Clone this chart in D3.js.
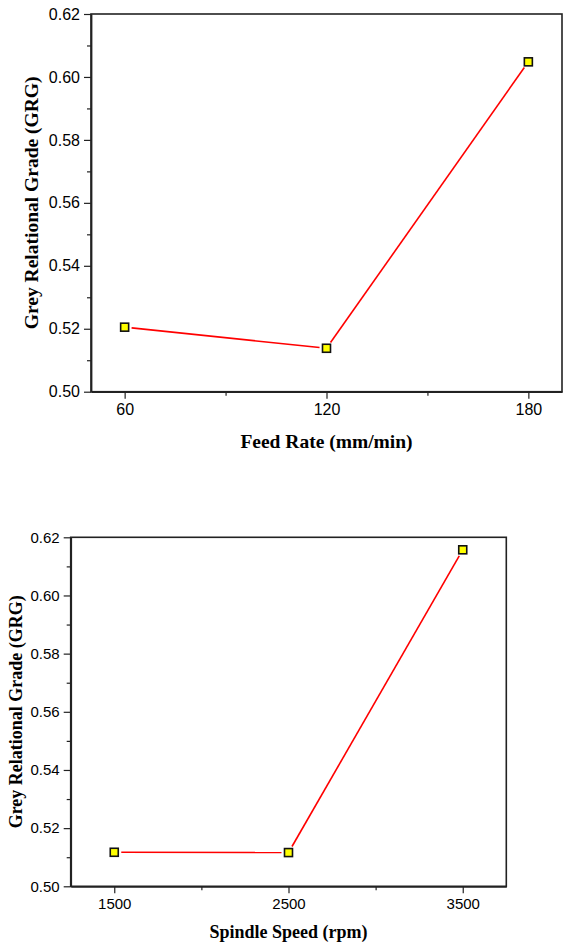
<!DOCTYPE html>
<html>
<head>
<meta charset="utf-8">
<script src="https://cdn.jsdelivr.net/npm/d3@7"></script>
<style>
  body { margin: 0; background: #fff; }
  svg { display: block; }
  .tick text { font-family: "Liberation Sans", Arial, sans-serif; fill: #000; }
  .axis path, .axis line { stroke: #222; }
  .title { font-family: "Liberation Serif", "Times New Roman", serif; font-weight: bold; fill: #000; }
</style>
</head>
<body>
<div id="chart"></div>
<script>
// data
var feedRate = [60, 120, 180];
var grgFeed = [0.5205, 0.5138, 0.6048];
var spindleSpeed = [1500, 2500, 3500];
var grgSpindle = [0.5117, 0.5116, 0.6157];
var yTicks = [0.50, 0.52, 0.54, 0.56, 0.58, 0.60, 0.62];
var yMinor = [0.51, 0.53, 0.55, 0.57, 0.59, 0.61];
var feedTicks = [60, 120, 180];
var feedMinor = [90, 150];
var speedTicks = [1500, 2500, 3500];
var speedMinor = [2000, 3000];

var w = 566, h = 946;

var svg = d3.select("#chart")
  .append("svg")
  .attr("width", w)
  .attr("height", h);

function panel(opt) {
  var g = svg.append("g");

  var xScale = d3.scaleLinear()
    .domain(opt.xDomain)
    .range([opt.left, opt.right]);

  var yScale = d3.scaleLinear()
    .domain([0.50, 0.62])
    .range([opt.bottom, opt.top]);

  // frame (top + right)
  g.append("rect")
    .attr("x", opt.left)
    .attr("y", opt.top)
    .attr("width", opt.right - opt.left)
    .attr("height", opt.bottom - opt.top)
    .attr("fill", "none")
    .attr("stroke", "#222")
    .attr("stroke-width", 1.6);

  // minor ticks
  g.append("g")
    .attr("class", "axis")
    .attr("transform", "translate(0," + opt.bottom + ")")
    .call(d3.axisBottom(xScale).tickValues(opt.xMinor).tickSize(4).tickFormat(""))
    .call(function(s) { s.select(".domain").remove(); })
    .selectAll("line").attr("stroke-width", 1.2);

  g.append("g")
    .attr("class", "axis")
    .attr("transform", "translate(" + opt.left + ",0)")
    .call(d3.axisLeft(yScale).tickValues(yMinor).tickSize(4).tickFormat(""))
    .call(function(s) { s.select(".domain").remove(); })
    .selectAll("line").attr("stroke-width", 1.2);

  // major axes
  var xAxis = g.append("g")
    .attr("class", "axis")
    .attr("transform", "translate(0," + opt.bottom + ")")
    .call(d3.axisBottom(xScale).tickValues(opt.xTicks).tickSize(7).tickSizeOuter(0).tickPadding(5).tickFormat(d3.format("d")));
  xAxis.select(".domain").attr("stroke-width", 1.8);
  xAxis.selectAll(".tick line").attr("stroke-width", 1.2);
  xAxis.selectAll(".tick text").style("font-size", opt.tickFont + "px");

  var yAxis = g.append("g")
    .attr("class", "axis")
    .attr("transform", "translate(" + opt.left + ",0)")
    .call(d3.axisLeft(yScale).tickValues(yTicks).tickSize(7).tickSizeOuter(0).tickPadding(4).tickFormat(d3.format(".2f")));
  yAxis.select(".domain").attr("stroke-width", 1.8);
  yAxis.selectAll(".tick line").attr("stroke-width", 1.2);
  yAxis.selectAll(".tick text").style("font-size", opt.tickFont + "px");

  // line segments with a small gap at the symbols
  var pts = opt.xs.map(function(d, i) { return [xScale(d), yScale(opt.ys[i])]; });
  var gap = 7;
  for (var i = 0; i < pts.length - 1; i++) {
    var a = pts[i], b = pts[i + 1];
    var dx = b[0] - a[0], dy = b[1] - a[1];
    var len = Math.sqrt(dx * dx + dy * dy);
    var ux = dx / len, uy = dy / len;
    g.append("line")
      .attr("x1", a[0] + ux * gap)
      .attr("y1", a[1] + uy * gap)
      .attr("x2", b[0] - ux * gap)
      .attr("y2", b[1] - uy * gap)
      .attr("stroke", "#ff0000")
      .attr("stroke-width", 1.6);
  }

  // square symbols
  g.selectAll("rect.sym")
    .data(opt.xs)
    .enter()
    .append("rect")
    .attr("class", "sym")
    .attr("x", function(d) { return xScale(d) - 4; })
    .attr("y", function(d, i) { return yScale(opt.ys[i]) - 4; })
    .attr("width", 8)
    .attr("height", 8)
    .attr("fill", "#ffff00")
    .attr("stroke", "#111")
    .attr("stroke-width", 1.6);

  // titles
  g.append("text")
    .attr("class", "title")
    .attr("text-anchor", "middle")
    .attr("x", (opt.left + opt.right) / 2)
    .attr("y", opt.xTitleY)
    .style("font-size", opt.titleFont + "px")
    .text(opt.xTitle);

  g.append("text")
    .attr("class", "title")
    .attr("text-anchor", "middle")
    .attr("transform", "translate(" + opt.yTitleX + "," + ((opt.top + opt.bottom) / 2) + ")rotate(-90)")
    .style("font-size", opt.titleFont + "px")
    .text("Grey Relational Grade (GRG)");
}

panel({
  left: 91, right: 562, top: 14, bottom: 391.7,
  xDomain: [50, 190], xTicks: feedTicks, xMinor: feedMinor,
  xs: feedRate, ys: grgFeed,
  tickFont: 16, titleFont: 19.5,
  xTitle: "Feed Rate (mm/min)", xTitleY: 448, yTitleX: 38
});

panel({
  left: 70.7, right: 506.3, top: 537.3, bottom: 886.3,
  xDomain: [1250, 3750], xTicks: speedTicks, xMinor: speedMinor,
  xs: spindleSpeed, ys: grgSpindle,
  tickFont: 15, titleFont: 18,
  xTitle: "Spindle Speed (rpm)", xTitleY: 938, yTitleX: 22
});
</script>
</body>
</html>
